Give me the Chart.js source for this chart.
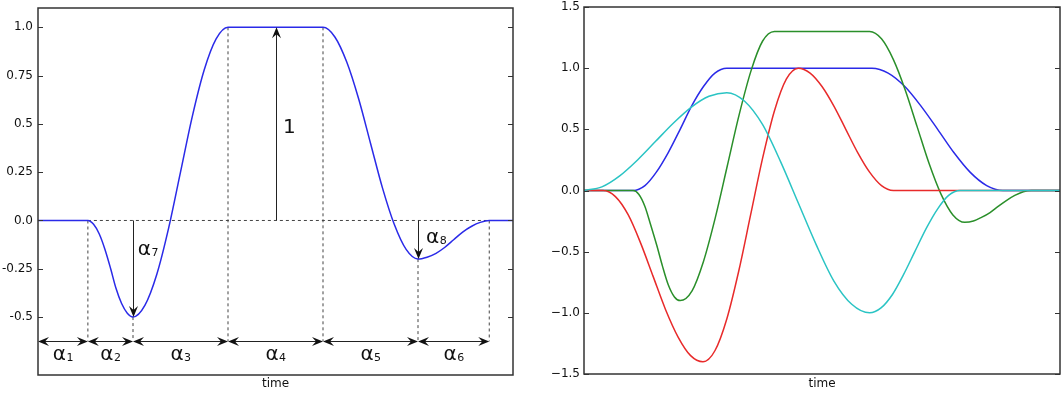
<!DOCTYPE html>
<html>
<head>
<meta charset="utf-8">
<script src="https://cdn.jsdelivr.net/npm/chart.js@4.4.1/dist/chart.umd.min.js"></script>
<style>
  body{margin:0;background:#fff;}
  #leftChart{position:absolute;left:0;top:0;width:530px;height:394px;}
  #rightChart{position:absolute;left:530px;top:0;width:533px;height:394px;}
</style>
</head>
<body>
<canvas id="leftChart" width="530" height="394"></canvas>
<canvas id="rightChart" width="533" height="394"></canvas>
<script>

/* LEFT PANEL - one profile */

const leftTime  = [0, 1.05, 1.17, 1.29, 1.41, 1.53, 1.64, 1.76, 1.88, 2.0,
                   2.25, 2.5, 2.75, 3.0, 3.25, 3.5, 3.75, 4.0, 6.0,
                   6.25, 6.5, 6.75, 7.0, 7.25, 7.5, 7.75, 8.0,
                   8.19, 8.38, 8.56, 8.75, 8.94, 9.13, 9.31, 9.5, 10];
const leftValue = [0, 0, -0.02, -0.07, -0.15, -0.25, -0.35, -0.43, -0.48, -0.5,
                   -0.44, -0.28, -0.04, 0.25, 0.54, 0.78, 0.94, 1.0, 1.0,
                   0.95, 0.82, 0.63, 0.4, 0.17, -0.02, -0.15, -0.2,
                   -0.19, -0.17, -0.14, -0.1, -0.06, -0.03, -0.01, 0, 0];

const leftTicks      = [1.0, 0.75, 0.5, 0.25, 0.0, -0.25, -0.5];
const leftTickLabels = ["1.0", "0.75", "0.5", "0.25", "0.0", "-0.25", "-0.5"];

// segment boundaries on the time axis and the curve value at each one
const segmentBounds = [0, 1.05, 2.0, 4.0, 6.0, 8.0, 9.5];
const boundValue    = [0, 0, -0.5, 1.0, 1.0, -0.2, 0];
const segmentNames  = ["1", "2", "3", "4", "5", "6"];

// vertical arrows: time, tip value, label text, label position
const heightX      = [5.0, 2.0, 8.0];
const heightTip    = [1.0, -0.5, -0.2];
const heightNames  = ["", "7", "8"];
const heightLabelX = [5.16, 2.1, 8.17];
const heightLabelY = [0.455, -0.18, -0.115];

const arrowRow = -0.625;
const labelRow = -0.72;

/* RIGHT PANEL - four profiles */

const blueTime   = [0, 1.03, 1.28, 1.52, 1.77, 2.02, 2.26, 2.51, 2.75, 3.0,
                    6.05, 6.39, 6.74, 7.08, 7.43, 7.77, 8.11, 8.46, 8.8, 10];
const blueValue  = [0, 0, 0.04, 0.15, 0.31, 0.5, 0.69, 0.85, 0.96, 1.0,
                    1.0, 0.96, 0.85, 0.69, 0.5, 0.31, 0.15, 0.04, 0, 0];

const greenTime  = [0, 1.03, 1.15, 1.28, 1.40, 1.53, 1.65, 1.77, 1.90, 2.02,
                    2.27, 2.51, 2.76, 3.01, 3.26, 3.51, 3.75, 4.0, 6.0,
                    6.25, 6.5, 6.75, 7.0, 7.25, 7.5, 7.75, 8.0,
                    8.18, 8.35, 8.53, 8.7, 8.88, 9.05, 9.23, 9.4, 10];
const greenValue = [0, 0, -0.03, -0.13, -0.28, -0.45, -0.62, -0.77, -0.87, -0.9,
                    -0.82, -0.58, -0.22, 0.2, 0.62, 0.98, 1.22, 1.3, 1.3,
                    1.24, 1.07, 0.82, 0.52, 0.22, -0.03, -0.2, -0.26,
                    -0.25, -0.22, -0.18, -0.13, -0.08, -0.04, -0.01, 0, 0];

const redTime    = [0, 0.4, 0.66, 0.93, 1.19, 1.45, 1.71, 1.98, 2.24, 2.5,
                    2.75, 3.0, 3.25, 3.5, 3.75, 4.0, 4.25, 4.5,
                    4.75, 5.0, 5.25, 5.5, 5.75, 6.0, 6.25, 6.5, 10];
const redValue   = [0, 0, -0.05, -0.2, -0.43, -0.7, -0.97, -1.2, -1.35, -1.4,
                    -1.31, -1.05, -0.66, -0.2, 0.26, 0.65, 0.91, 1.0,
                    0.96, 0.85, 0.69, 0.5, 0.31, 0.15, 0.04, 0, 0];

const cyanTime   = [0, 0.375, 0.75, 1.125, 1.5, 1.875, 2.25, 2.625, 3.0,
                    3.375, 3.75, 4.125, 4.5, 4.875, 5.25, 5.625, 6.0,
                    6.24, 6.48, 6.71, 6.95, 7.19, 7.43, 7.66, 7.9, 10];
const cyanValue  = [0, 0.03, 0.12, 0.25, 0.4, 0.55, 0.68, 0.77, 0.8,
                    0.73, 0.54, 0.24, -0.1, -0.44, -0.74, -0.93, -1.0,
                    -0.96, -0.85, -0.69, -0.5, -0.31, -0.15, -0.04, 0, 0];

const rightTicks      = [1.5, 1.0, 0.5, 0.0, -0.5, -1.0, -1.5];
const rightTickLabels = ["1.5", "1.0", "0.5", "0.0", "\u22120.5", "\u22121.0", "\u22121.5"];

Chart.defaults.font.family = "'DejaVu Sans', sans-serif";
Chart.defaults.font.size = 12;
Chart.defaults.color = "#111";

function toPoints(xs, ys){
  return xs.map((x, i) => ({x: x, y: ys[i]}));
}

/* FRAME + INWARD TICKS */

const framePlugin = {
  id:'frame',
  afterDraw(chart){
    const ctx = chart.ctx;
    const a = chart.chartArea;
    const y = chart.scales.y;
    ctx.save();
    ctx.strokeStyle = '#333';
    ctx.lineWidth = 1;
    y.ticks.forEach(t => {
      const py = Math.round(y.getPixelForValue(t.value)) + 0.5;
      ctx.beginPath();
      ctx.moveTo(a.left, py); ctx.lineTo(a.left + 5, py);
      ctx.moveTo(a.right, py); ctx.lineTo(a.right - 5, py);
      ctx.stroke();
    });
    ctx.lineWidth = 1.5;
    ctx.strokeRect(a.left, a.top, a.right - a.left, a.bottom - a.top);
    ctx.restore();
  }
};

/* ARROWS AND ALPHA LABELS */

function arrowHead(ctx, tx, ty, dx, dy){
  const len = 11, half = 4.5, notch = 4;
  const px = -dy, py = dx;
  ctx.beginPath();
  ctx.moveTo(tx, ty);
  ctx.lineTo(tx - dx*len + px*half, ty - dy*len + py*half);
  ctx.lineTo(tx - dx*(len - notch), ty - dy*(len - notch));
  ctx.lineTo(tx - dx*len - px*half, ty - dy*len - py*half);
  ctx.closePath();
  ctx.fill();
}

function alphaLabel(ctx, cx, baseY, sub, centered){
  ctx.font = "20px 'DejaVu Sans'";
  const wa = ctx.measureText("\u03b1").width;
  ctx.font = "11px 'DejaVu Sans'";
  const ws = ctx.measureText(sub).width;
  const x0 = centered ? cx - (wa + ws)/2 : cx;
  ctx.textAlign = 'left';
  ctx.textBaseline = 'alphabetic';
  ctx.font = "20px 'DejaVu Sans'";
  ctx.fillText("\u03b1", x0, baseY);
  ctx.font = "11px 'DejaVu Sans'";
  ctx.fillText(sub, x0 + wa + 0.5, baseY + 1);
}

const annotatePlugin = {
  id:'annotate',
  afterDatasetsDraw(chart){
    const ctx = chart.ctx;
    const x = chart.scales.x;
    const y = chart.scales.y;
    ctx.save();
    ctx.strokeStyle = '#222';
    ctx.fillStyle = '#111';
    ctx.lineWidth = 1;

    // horizontal double arrows under each segment
    const rowY = Math.round(y.getPixelForValue(arrowRow)) + 0.5;
    for (let i = 0; i < segmentNames.length; i++){
      const x1 = x.getPixelForValue(segmentBounds[i]);
      const x2 = x.getPixelForValue(segmentBounds[i + 1]);
      ctx.beginPath();
      ctx.moveTo(x1 + 6, rowY); ctx.lineTo(x2 - 6, rowY);
      ctx.stroke();
      arrowHead(ctx, x1, rowY, -1, 0);
      arrowHead(ctx, x2, rowY, 1, 0);
      alphaLabel(ctx, (x1 + x2)/2, y.getPixelForValue(labelRow), segmentNames[i], true);
    }

    // vertical arrows from zero to the marked heights
    const zeroY = y.getPixelForValue(0);
    heightX.forEach((t, i) => {
      const px = Math.round(x.getPixelForValue(t)) + 0.5;
      const tip = y.getPixelForValue(heightTip[i]);
      const dir = tip < zeroY ? -1 : 1;
      ctx.beginPath();
      ctx.moveTo(px, zeroY); ctx.lineTo(px, tip - dir*6);
      ctx.stroke();
      arrowHead(ctx, px, tip, 0, dir);
      const lx = x.getPixelForValue(heightLabelX[i]);
      const ly = y.getPixelForValue(heightLabelY[i]);
      if (heightNames[i] === ""){
        ctx.font = "20px 'DejaVu Sans'";
        ctx.textAlign = 'left';
        ctx.textBaseline = 'alphabetic';
        ctx.fillText("1", lx, ly);
      } else {
        alphaLabel(ctx, lx, ly, heightNames[i], false);
      }
    });
    ctx.restore();
  }
};

/* LEFT CHART */

function loadLeftChart(){

  const guides = [];

  // vertical dashed guides at the inner boundaries
  for (let i = 1; i < segmentBounds.length; i++){
    guides.push({
      data:[{x:segmentBounds[i], y:boundValue[i]}, {x:segmentBounds[i], y:arrowRow}],
      borderColor:'#444', borderWidth:1, borderDash:[3,3],
      pointRadius:0, tension:0, order:2
    });
  }

  // dashed zero line between the first and last boundary
  guides.push({
    data:[{x:segmentBounds[1], y:0}, {x:segmentBounds[segmentBounds.length - 1], y:0}],
    borderColor:'#444', borderWidth:1, borderDash:[3,3],
    pointRadius:0, tension:0, order:2
  });

  new Chart(document.getElementById("leftChart"), {

    type:'line',

    data:{
      datasets:[{
        data:toPoints(leftTime, leftValue),
        borderColor:'#2a2ae8',
        borderWidth:1.5,
        pointRadius:0,
        cubicInterpolationMode:'monotone',
        order:1
      }].concat(guides)
    },

    options:{
      responsive:false,
      animation:false,
      layout:{padding:{top:8, right:17, left:0, bottom:0}},
      plugins:{legend:{display:false}, tooltip:{enabled:false}},
      scales:{
        x:{
          type:'linear', min:0, max:10,
          grid:{display:false, drawTicks:false},
          border:{display:false},
          ticks:{display:false},
          title:{display:true, text:'time', font:{size:12}, padding:{top:0, bottom:3}},
          afterFit(scale){ scale.height = 19; }
        },
        y:{
          min:-0.8, max:1.1,
          grid:{display:false, drawTicks:false},
          border:{display:false},
          ticks:{
            padding:5,
            callback:(v, i) => leftTickLabels[i]
          },
          afterBuildTicks(scale){ scale.ticks = leftTicks.map(v => ({value:v})); },
          afterFit(scale){
            scale.width = 38;
            scale.paddingTop = 0;
            scale.paddingBottom = 0;
          }
        }
      }
    },

    plugins:[annotatePlugin, framePlugin]

  });

}

/* RIGHT CHART */

function loadRightChart(){

  const line = (xs, ys, color, order) => ({
    data:toPoints(xs, ys),
    borderColor:color,
    borderWidth:1.5,
    pointRadius:0,
    cubicInterpolationMode:'monotone',
    order:order
  });

  new Chart(document.getElementById("rightChart"), {

    type:'line',

    data:{
      datasets:[
        line(blueTime, blueValue, '#2a2ae8', 4),
        line(greenTime, greenValue, '#2a8f2a', 3),
        line(redTime, redValue, '#e82a2a', 2),
        line(cyanTime, cyanValue, '#2ac4c4', 1)
      ]
    },

    options:{
      responsive:false,
      animation:false,
      layout:{padding:{top:7, right:3, left:0, bottom:0}},
      plugins:{legend:{display:false}, tooltip:{enabled:false}},
      scales:{
        x:{
          type:'linear', min:0, max:10,
          grid:{display:false, drawTicks:false},
          border:{display:false},
          ticks:{display:false},
          title:{display:true, text:'time', font:{size:12}, padding:{top:0, bottom:3}},
          afterFit(scale){ scale.height = 20; }
        },
        y:{
          min:-1.5, max:1.5,
          grid:{display:false, drawTicks:false},
          border:{display:false},
          ticks:{
            padding:4,
            callback:(v, i) => rightTickLabels[i]
          },
          afterBuildTicks(scale){ scale.ticks = rightTicks.map(v => ({value:v})); },
          afterFit(scale){
            scale.width = 54;
            scale.paddingTop = 0;
            scale.paddingBottom = 0;
          }
        }
      }
    },

    plugins:[framePlugin]

  });

}

loadLeftChart();
loadRightChart();

</script>
</body>
</html>
